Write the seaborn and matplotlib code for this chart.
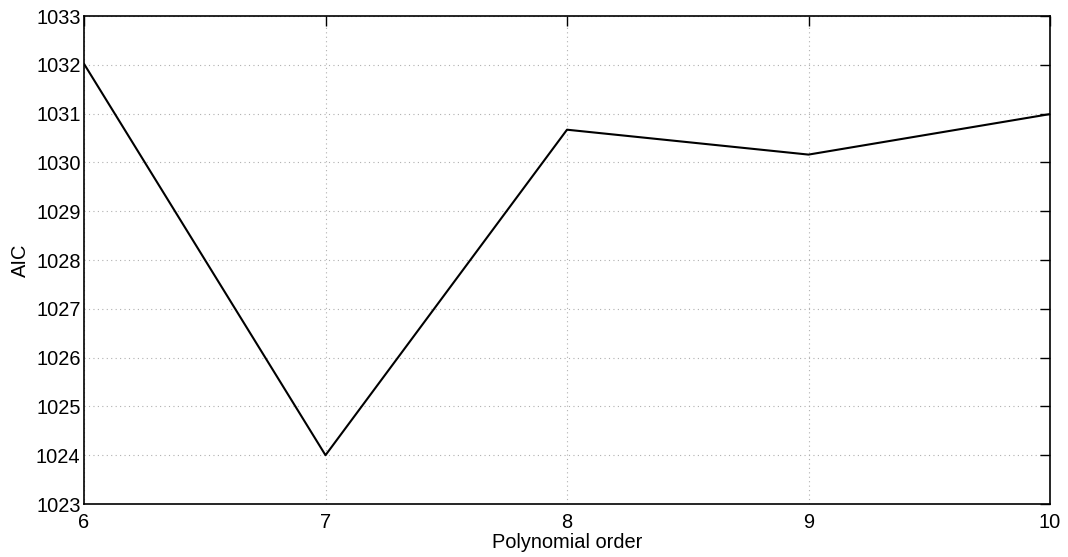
import matplotlib
matplotlib.use("Agg")
import matplotlib.pyplot as plt
import seaborn as sns
import pandas as pd

orders = [6, 7, 8, 9, 10]
aic = [1032.02, 1024.0, 1030.67, 1030.16, 1030.99]

sns.set_style("white")
plt.rcParams["font.family"] = ["Liberation Sans", "DejaVu Sans"]

df = pd.DataFrame({"order": orders, "aic": aic})

fig = plt.figure(figsize=(10.68, 5.57), dpi=100)
ax = fig.add_axes([84 / 1068, 53 / 557, (1050 - 84) / 1068, (504 - 16) / 557])

sns.lineplot(data=df, x="order", y="aic", color="black", linewidth=1.5, ax=ax)

ax.set_xlim(6, 10)
ax.set_ylim(1023, 1033)
ax.set_xticks(orders)
ax.set_yticks(range(1023, 1034))
ax.grid(True, color="#b0b0b0", linestyle=(0, (1, 3)), linewidth=0.8)
ax.tick_params(direction="in", length=7, width=1, labelsize=14.4, colors="black",
               top=True, right=True)
ax.tick_params(axis="y", pad=2.5)
ax.tick_params(axis="x", pad=6.5)
for s in ax.spines.values():
    s.set_color("black")
    s.set_linewidth(1.2)

ax.set_xlabel("Polynomial order", fontsize=14.4, labelpad=1, color="black")
ax.set_ylabel("AIC", fontsize=14.4, labelpad=4, color="black")

fig.savefig("out.png", dpi=100)
